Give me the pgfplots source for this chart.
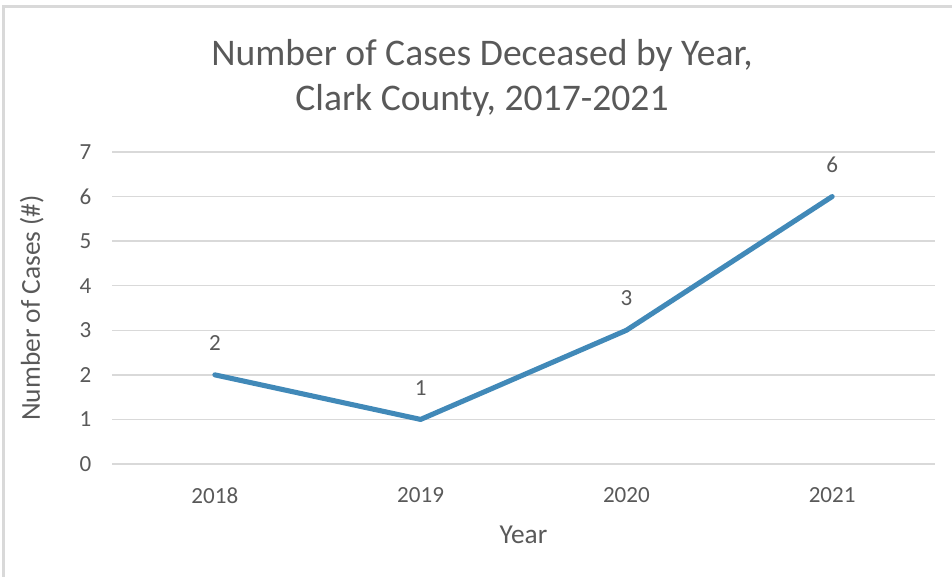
\documentclass[border=0pt]{standalone}
\usepackage{fontspec}
\setmainfont{Carlito}
\usepackage{pgfplots}
\pgfplotsset{compat=1.18}
\definecolor{linecol}{HTML}{4189B8}
\definecolor{txt}{HTML}{595959}
\definecolor{gridgray}{HTML}{D9D9D9}
\begin{document}
\begin{tikzpicture}
\useasboundingbox (0pt,0pt) rectangle (714pt,432.75pt);
% chart border (left and top visible)
\draw[gridgray, line width=2.2pt] (2.6pt,0pt) -- (2.6pt,427.9pt) -- (714pt,427.9pt);
\node[txt, align=center, font=\fontsize{28.2}{33.75}\selectfont] at (361.5pt,374.25pt) {Number of Cases Deceased by Year,\\Clark County, 2017-2021};
\begin{axis}[
  at={(84pt,84.75pt)}, anchor=south west,
  scale only axis, width=617.25pt, height=234pt,
  xmin=-0.5, xmax=3.5, ymin=0, ymax=7,
  xtick={0,1,2,3}, xticklabels={2018,2019,2020,2021},
  ytick={0,...,7},
  axis line style={draw=none},
  tick style={draw=none},
  ymajorgrids, grid style={gridgray, line width=1.1pt},
  ticklabel style={txt, font=\fontsize{17.3}{20}\selectfont},
  /pgf/number format/assume math mode=true,
  yticklabel style={xshift=-12pt},
  xticklabel style={yshift=-14pt},
  xlabel={Year}, ylabel={Number of Cases (\#)},
  label style={txt, font=\fontsize{20.5}{24}\selectfont},
  xlabel style={yshift=-10pt},
  ylabel style={yshift=20pt},
  clip=false,
]
\addplot[linecol, line width=3.8pt, line join=round, line cap=round,
  nodes near coords, nodes near coords style={txt, font=\fontsize{17.3}{20}\selectfont, anchor=south, yshift=13pt}]
  coordinates {(0,2) (1,1) (2,3) (3,6)};
\end{axis}
\end{tikzpicture}
\end{document}
